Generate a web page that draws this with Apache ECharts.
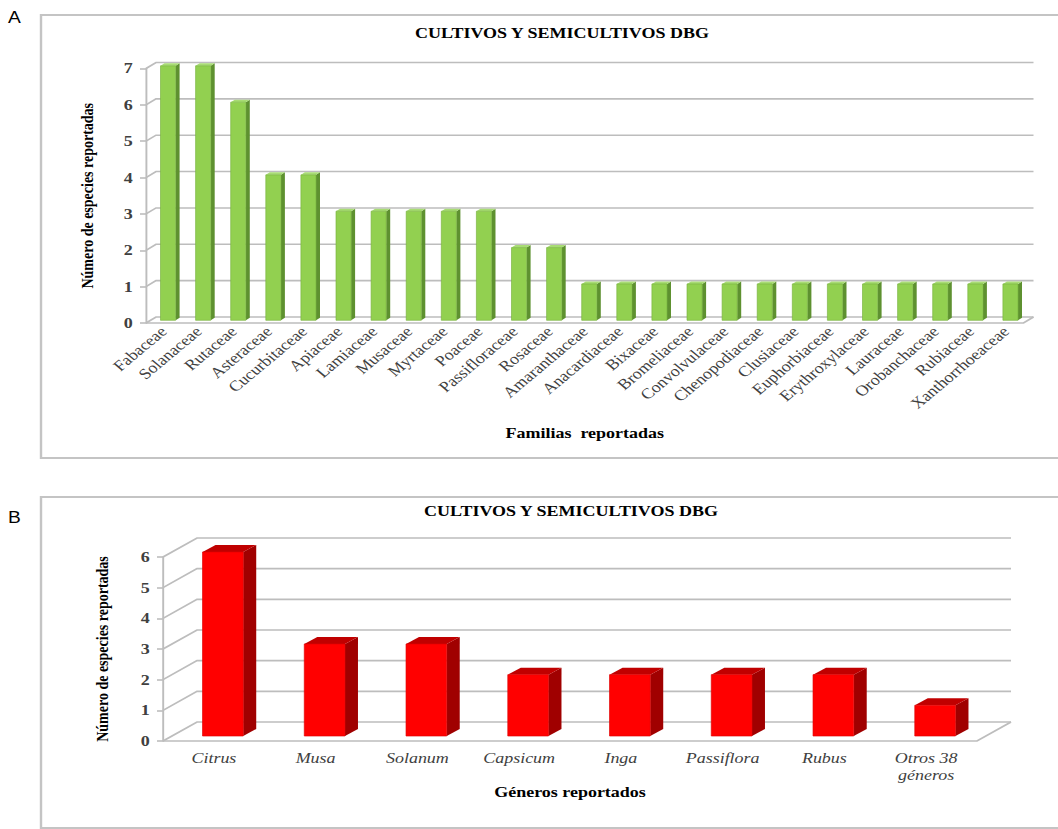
<!DOCTYPE html>
<html><head><meta charset="utf-8">
<script src="https://cdn.jsdelivr.net/npm/echarts@6/dist/echarts.min.js"></script>
<style>
html,body{margin:0;padding:0;background:#fff;overflow:hidden}
#wrap{width:1058px;height:829px;overflow:hidden;position:relative}
#chart{height:829px;transform-origin:0 0}
</style></head>
<body><div id="wrap"><div id="chart"></div></div>
<script>
// ---------- data ----------
const familias = ['Fabaceae','Solanaceae','Rutaceae','Asteraceae','Cucurbitaceae','Apiaceae','Lamiaceae','Musaceae','Myrtaceae','Poaceae','Passifloraceae','Rosaceae','Amaranthaceae','Anacardiaceae','Bixaceae','Bromeliaceae','Convolvulaceae','Chenopodiaceae','Clusiaceae','Euphorbiaceae','Erythroxylaceae','Lauraceae','Orobanchaceae','Rubiaceae','Xanthorrhoeaceae'];
const especiesFam = [7,7,6,4,4,3,3,3,3,3,2,2,1,1,1,1,1,1,1,1,1,1,1,1,1];
const generos = ['Citrus','Musa','Solanum','Capsicum','Inga','Passiflora','Rubus','Otros 38\ngéneros'];
const especiesGen = [6,3,3,2,2,2,2,1];
const ticksA = [0,1,2,3,4,5,6,7];
const ticksB = [0,1,2,3,4,5,6];
const tituloA = 'CULTIVOS Y SEMICULTIVOS DBG';
const tituloB = 'CULTIVOS Y SEMICULTIVOS DBG';
const ejeYNombre = 'Número de especies reportadas';
const ejeXNombreA = 'Familias  reportadas';
const ejeXNombreB = 'Géneros reportados';

// ---------- layout (the reference is stretched horizontally) ----------
const S = 1.2;
const el = document.getElementById('chart');
el.style.width = (1058 / S) + 'px';
el.style.transform = 'scaleX(' + S + ')';

const SERIF = 'Liberation Serif';
const GRID_COLOR = '#bdbdbd';
const TXT = '#404040';

function wallRenderer(depth) {
  return function (params, api) {
    const cs = params.coordSys;
    const v = api.value(1);
    const y = api.coord([0, v])[1];
    const x0 = cs.x, x1 = cs.x + cs.width;
    const dx = depth[0], dy = depth[1];
    const style = { stroke: GRID_COLOR, lineWidth: 1.6, fill: null };
    const children = [{ type: 'polyline', shape: { points: [[x0, y], [x0 + dx, y + dy], [x1 + dx, y + dy]] }, style }];
    if (v === 0) {
      children.push({ type: 'polyline', shape: { points: [[x0, y], [x1, y], [x1 + dx, y + dy]] }, style });
    }
    return { type: 'group', children };
  };
}

function barRenderer(cfg) {
  return function (params, api) {
    const i = api.value(0), v = api.value(1);
    const b = api.coord([i, 0]), t = api.coord([i, v]);
    const bw = api.size([1, 0])[0] * cfg.ratio;
    const x = b[0] - bw / 2 + cfg.off[0];
    const yb = b[1] + cfg.off[1], yt = t[1] + cfg.off[1];
    const dx = cfg.depth[0], dy = cfg.depth[1];
    return { type: 'group', children: [
      { type: 'polygon', shape: { points: [[x + bw, yt], [x + bw + dx, yt + dy], [x + bw + dx, yb + dy], [x + bw, yb]] }, style: { fill: cfg.side } },
      { type: 'polygon', shape: { points: [[x, yt], [x + dx, yt + dy], [x + bw + dx, yt + dy], [x + bw, yt]] }, style: { fill: cfg.top } },
      { type: 'rect', shape: { x: x, y: yt, width: bw, height: yb - yt }, style: { fill: cfg.front, stroke: cfg.edge, lineWidth: 0.6 } }
    ] };
  };
}

const depthA = [10 / S, -6];
const depthB = [34 / S, -19];

const chart = echarts.init(el, null, { renderer: 'svg' });
chart.setOption({
  animation: false,
  backgroundColor: '#fff',
  title: [
    { text: tituloA, left: 556 / S, top: 21, textAlign: 'center',
      textStyle: { fontFamily: SERIF, fontWeight: 'bold', fontSize: 15, color: '#000' } },
    { text: tituloB, left: 565 / S, top: 499, textAlign: 'center',
      textStyle: { fontFamily: SERIF, fontWeight: 'bold', fontSize: 15, color: '#000' } }
  ],
  graphic: [
    { type: 'rect', shape: { x: 41 / S, y: 15, width: 1100 / S, height: 443 }, style: { fill: null, stroke: '#c4c4c4', lineWidth: 2 }, silent: true, z: -10 },
    { type: 'rect', shape: { x: 41 / S, y: 497, width: 1100 / S, height: 331 }, style: { fill: null, stroke: '#c4c4c4', lineWidth: 2 }, silent: true, z: -10 },
    { type: 'text', left: 8 / S, top: 10, style: { text: 'A', fontFamily: 'Liberation Sans', fontSize: 16, fill: '#000' } },
    { type: 'text', left: 8 / S, top: 510, style: { text: 'B', fontFamily: 'Liberation Sans', fontSize: 16, fill: '#000' } }
  ],
  grid: [
    { left: 146 / S, top: 68.5, width: 877.5 / S, height: 254.5 },
    { left: 163 / S, top: 557, width: 814 / S, height: 184 }
  ],
  xAxis: [
    { type: 'category', gridIndex: 0, data: familias,
      axisLine: { show: false }, axisTick: { show: false },
      axisLabel: { interval: 0, rotate: 45, margin: 6, fontFamily: SERIF, fontSize: 15, color: TXT },
      name: ejeXNombreA, nameLocation: 'middle', nameGap: 103,
      nameTextStyle: { fontFamily: SERIF, fontWeight: 'bold', fontSize: 15, color: '#000' } },
    { type: 'category', gridIndex: 1, data: generos,
      axisLine: { show: false }, axisTick: { show: false },
      axisLabel: { interval: 0, margin: 9, fontFamily: SERIF, fontStyle: 'italic', fontSize: 15, lineHeight: 17, color: TXT },
      name: ejeXNombreB, nameLocation: 'middle', nameGap: 42,
      nameTextStyle: { fontFamily: SERIF, fontWeight: 'bold', fontSize: 15, color: '#000' } }
  ],
  yAxis: [
    { type: 'value', gridIndex: 0, min: 0, max: 7, interval: 1,
      axisLine: { show: true, lineStyle: { color: GRID_COLOR, width: 1.6 } },
      axisTick: { show: true, length: 5, lineStyle: { color: GRID_COLOR, width: 1.6 } },
      splitLine: { show: false },
      axisLabel: { margin: 11, fontFamily: SERIF, fontWeight: 'bold', fontSize: 15, color: TXT },
      name: ejeYNombre, nameLocation: 'middle', nameGap: 42, nameRotate: 90,
      nameTextStyle: { fontFamily: SERIF, fontWeight: 'bold', fontSize: 14, color: '#000' } },
    { type: 'value', gridIndex: 1, min: 0, max: 6, interval: 1,
      axisLine: { show: true, lineStyle: { color: GRID_COLOR, width: 1.6 } },
      axisTick: { show: true, length: 5, lineStyle: { color: GRID_COLOR, width: 1.6 } },
      splitLine: { show: false },
      axisLabel: { margin: 11, fontFamily: SERIF, fontWeight: 'bold', fontSize: 15, color: TXT },
      name: ejeYNombre, nameLocation: 'middle', nameGap: 44, nameRotate: 90,
      nameTextStyle: { fontFamily: SERIF, fontWeight: 'bold', fontSize: 14, color: '#000' } }
  ],
  series: [
    { type: 'custom', xAxisIndex: 0, yAxisIndex: 0, clip: false, silent: true, z: 1,
      encode: { x: 0, y: 1 }, data: ticksA.map(v => [0, v]), renderItem: wallRenderer(depthA) },
    { type: 'custom', xAxisIndex: 1, yAxisIndex: 1, clip: false, silent: true, z: 1,
      encode: { x: 0, y: 1 }, data: ticksB.map(v => [0, v]), renderItem: wallRenderer(depthB) },
    { type: 'custom', xAxisIndex: 0, yAxisIndex: 0, clip: false, z: 5,
      encode: { x: 0, y: 1 }, data: especiesFam.map((v, i) => [i, v]),
      renderItem: barRenderer({ ratio: 0.43, off: [4.5 / S, -2.7], depth: [4 / S, -2.5],
        front: '#92D050', side: '#5E9130', top: '#A8DC74', edge: '#78B23E' }) },
    { type: 'custom', xAxisIndex: 1, yAxisIndex: 1, clip: false, z: 5,
      encode: { x: 0, y: 1 }, data: especiesGen.map((v, i) => [i, v]),
      renderItem: barRenderer({ ratio: 0.40, off: [9 / S, -5], depth: [13 / S, -7],
        front: '#FF0000', side: '#A00000', top: '#C00000', edge: '#E00000' }) }
  ]
});
</script>
</body></html>
